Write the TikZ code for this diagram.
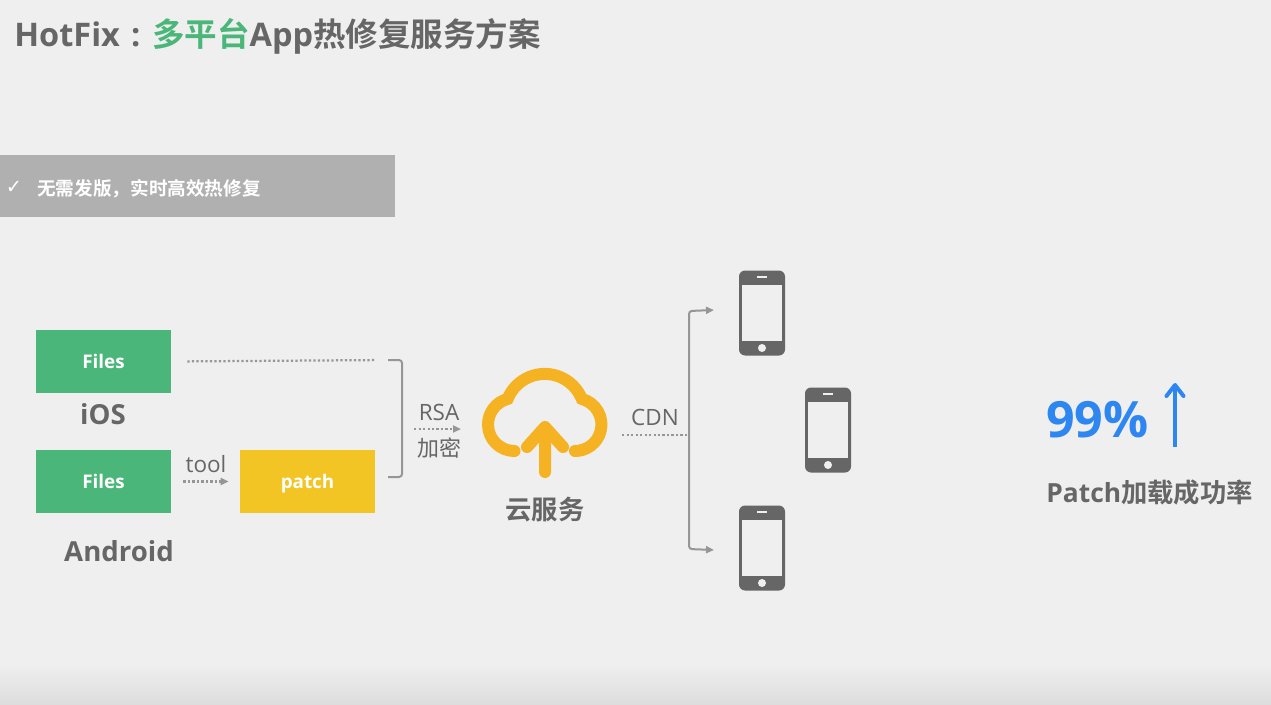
\documentclass[tikz,border=0pt]{standalone}
\usepackage{fontspec}
\usepackage{xcolor}
\setmainfont{Noto Sans CJK SC}[BoldFont=* Bold]
\newfontfamily\latfont{Open Sans}[BoldFont=* Bold]
\newfontfamily\checkfont{DejaVu Sans}
\usetikzlibrary{
	arrows.meta,
	calc
}
\definecolor{PageGray}{RGB}{239,239,239}
\definecolor{BottomGray}{RGB}{221,221,221}
\definecolor{TextGray}{RGB}{102,102,102}
\definecolor{LineGray}{RGB}{150,150,150}
\definecolor{BannerGray}{RGB}{176,176,176}
\definecolor{FileGreen}{RGB}{75,182,121}
\definecolor{PatchYellow}{RGB}{242,197,37}
\definecolor{CloudOrange}{RGB}{245,179,36}
\definecolor{RateBlue}{RGB}{46,134,240}
\tikzset{
	filebox/.style={fill=#1, minimum width=2.7cm, minimum height=1.26cm, inner sep=0pt, text height=8pt, text depth=0pt, text=white, font=\latfont\bfseries\fontsize{10.7}{12}\selectfont},
	biglabel/.style={inner sep=0pt, text=TextGray, font=\bfseries\fontsize{15}{18}\selectfont},
	thinlabel/.style={inner sep=0pt, text=TextGray, font=\latfont\fontsize{12.8}{15}\selectfont},
	dotline/.style={LineGray, line width=0.045cm, dash pattern=on 0.045cm off 0.045cm},
	dotarrow/.style={dotline, -{Triangle[length=0.16cm,width=0.14cm]}},
	bracketline/.style={LineGray, line width=0.04cm, rounded corners=0.06cm},
	cloudline/.style={CloudOrange, line width=0.24cm, line cap=round},
	phone/.style={fill=TextGray, rounded corners=0.12cm, minimum width=0.92cm, minimum height=1.7cm, inner sep=0pt,
		path picture={
			\coordinate (phonemid) at (path picture bounding box.center);
			\fill[PageGray, sharp corners] ($(phonemid)+(-20,-28)$) rectangle ($(phonemid)+(20,28)$);
			\fill[PageGray, sharp corners] ($(phonemid)+(-5,-37)$) rectangle ($(phonemid)+(5,-35)$);
			\fill[PageGray] ($(phonemid)+(0,35)$) circle[radius=0.08cm];
		}}
}
\begin{document}
\begin{tikzpicture}[x=0.02cm, y=-0.02cm]
	\fill[PageGray] (0,0) rectangle (1271,704);
	\shade[top color=PageGray, bottom color=BottomGray] (0,664) rectangle (1271,704);
	\useasboundingbox (0,0) rectangle (1271,704);

	\node[biglabel, anchor=west, font=\bfseries\fontsize{18.5}{21}\selectfont] (title) at (14,36) {{\latfont HotFix\hspace{6.4pt}:\hspace{6.6pt}}\textcolor{FileGreen}{多平台}{\latfont App}热修复服务方案};

	\fill[BannerGray] (0,155) rectangle (395,217);
	\node[inner sep=0pt, text=white, font=\checkfont\bfseries\fontsize{11}{13}\selectfont] (tick) at (14,187) {✓};
	\node[inner sep=0pt, anchor=west, text=white, font=\bfseries\fontsize{10.6}{12}\selectfont] (slogan) at (37,189) {无需发版，实时高效热修复};

	\node[filebox=FileGreen] (filesios) at (103.5,361.5) {Files};
	\node[filebox=FileGreen] (filesandroid) at (103.5,481.5) {Files};
	\node[filebox=PatchYellow] (patch) at (307.5,481.5) {patch};
	\node[biglabel, font=\latfont\bfseries\fontsize{15.7}{18}\selectfont] (ios) at (103,414) {iOS};
	\node[biglabel, font=\latfont\bfseries\fontsize{15.7}{18}\selectfont] (android) at (119,551) {Android};
	\node[thinlabel] (tool) at (206,464) {tool};

	\coordinate (brackettop) at (388,360);
	\coordinate (bracketlow) at (388,477);
	\draw[dotline, shorten <=0.32cm, shorten >=0.26cm] (filesios.east) -- (brackettop);
	\draw[dotarrow, shorten <=0.24cm, shorten >=0.22cm] (filesandroid) -- (patch);
	\draw[bracketline] (brackettop) -| (402,477) -- (bracketlow);

	\coordinate (rsastart) at (414,429);
	\coordinate (rsaend) at (461,429);
	\draw[dotarrow] (rsastart) -- (rsaend);
	\node[thinlabel] (rsa) at (439,412) {RSA};
	\node[thinlabel, font=\fontsize{12.5}{15}\selectfont] (encrypt) at (439,448) {加密};

	% cloud
	\draw[cloudline] (514.5,451) arc[start angle=-90, end angle=-255, radius=0.53cm] arc[start angle=158, end angle=22, radius=0.8cm] arc[start angle=75, end angle=-90, radius=0.53cm];
	\draw[cloudline, line join=round] (527,447) -- (545,427) -- (563,447) (545,427) -- (545,472);
	\node[biglabel] (cloud) at (545,510) {云服务};

	\node[phone] (phonetop) at (762,313) {};
	\node[phone] (phonemiddle) at (828,430) {};
	\node[phone] (phonelow) at (762,548) {};

	\coordinate (cdnstart) at (622,435);
	\coordinate (cdnbranch) at (690,435);
	\coordinate (uptip) at (714,310);
	\coordinate (lowtip) at (714,550);
	\draw[dotline] (cdnstart) -- (cdnbranch);
	\draw[bracketline, {Triangle[length=0.16cm,width=0.14cm]}-{Triangle[length=0.16cm,width=0.14cm]}] (uptip) -- (689,311) -- (689,549) -- (lowtip);
	\node[thinlabel] (cdn) at (655,417) {CDN};

	\node[inner sep=0pt, anchor=west, text=RateBlue, font=\latfont\bfseries\fontsize{28.5}{33}\selectfont] (rate) at (1046,420) {99\%};
	\coordinate (ratefoot) at (1175,447);
	\coordinate (ratehead) at (1175,383);
	\draw[RateBlue, line width=0.08cm, -{Straight Barb[length=0.22cm,width=0.34cm,round]}] (ratefoot) -- (ratehead);
	\node[biglabel, anchor=west, font=\bfseries\fontsize{15}{18}\selectfont] (ratetext) at (1046,493) {{\latfont Patch}加载成功率};
\end{tikzpicture}
\end{document}
